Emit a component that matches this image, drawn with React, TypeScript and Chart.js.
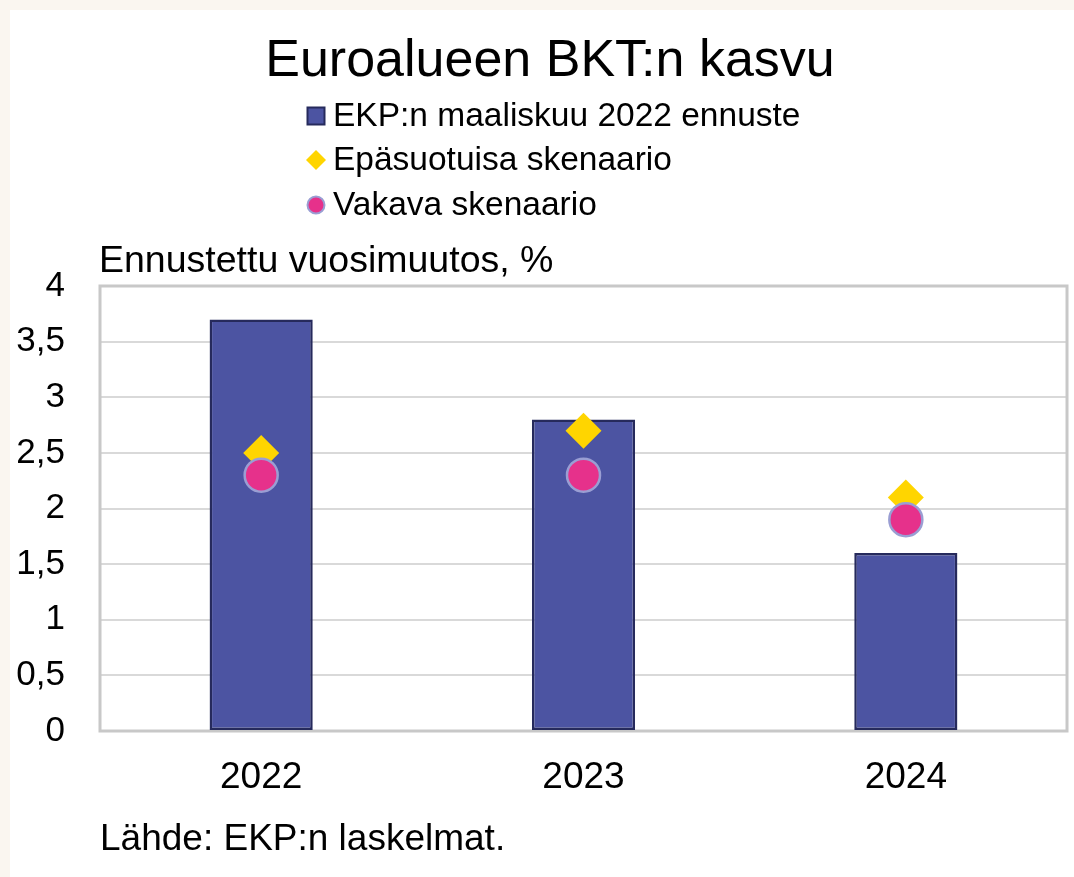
import React, { useEffect, useRef } from "react";
import { Chart, registerables } from "chart.js";

Chart.register(...registerables);

const TITLE = "Euroalueen BKT:n kasvu";
const AXIS_LABEL = "Ennustettu vuosimuutos, %";
const SOURCE = "Lähde: EKP:n laskelmat.";
const categories = ["2022", "2023", "2024"];
const seriesLabels = [
  "EKP:n maaliskuu 2022 ennuste",
  "Epäsuotuisa skenaario",
  "Vakava skenaario",
];
const ecbMarch2022 = [3.7, 2.8, 1.6];
const adverseScenario = [2.5, 2.7, 2.1];
const severeScenario = [2.3, 2.3, 1.9];
const yMin = 0;
const yMax = 4;
const yStep = 0.5;

const FONT = "'Liberation Sans', Arial, Helvetica, sans-serif";
const BAR_FILL = "#4c54a2";
const BAR_BORDER = "#262a5c";
const DIAMOND = "#ffd500";
const CIRCLE_FILL = "#e6318b";
const CIRCLE_BORDER = "#9a9ed3";

const decorPlugin = {
  id: "decor",
  beforeDatasetsDraw(chart: any) {
    const { ctx, chartArea } = chart;
    ctx.save();
    ctx.strokeStyle = "#c8c8c8";
    ctx.lineWidth = 3;
    ctx.strokeRect(
      chartArea.left,
      chartArea.top,
      chartArea.right - chartArea.left,
      chartArea.bottom - chartArea.top
    );
    ctx.restore();
  },
  afterDraw(chart: any) {
    const { ctx, chartArea } = chart;
    ctx.save();
    ctx.fillStyle = "#000";
    // title
    ctx.font = `52px ${FONT}`;
    ctx.textAlign = "center";
    ctx.textBaseline = "alphabetic";
    ctx.fillText(TITLE, 540, 66);

    // legend
    const lx = 306;
    const rows = [106, 150, 195];
    ctx.font = `33.5px ${FONT}`;
    ctx.textAlign = "left";
    ctx.textBaseline = "middle";
    // bar marker
    ctx.fillStyle = BAR_FILL;
    ctx.fillRect(lx - 8.5, rows[0] - 8.5, 17, 17);
    ctx.strokeStyle = BAR_BORDER;
    ctx.lineWidth = 2;
    ctx.strokeRect(lx - 8.5, rows[0] - 8.5, 17, 17);
    // diamond marker
    ctx.fillStyle = DIAMOND;
    ctx.beginPath();
    ctx.moveTo(lx - 10, rows[1]);
    ctx.lineTo(lx, rows[1] - 10);
    ctx.lineTo(lx + 10, rows[1]);
    ctx.lineTo(lx, rows[1] + 10);
    ctx.closePath();
    ctx.fill();
    // circle marker
    ctx.beginPath();
    ctx.arc(lx, rows[2], 8.5, 0, Math.PI * 2);
    ctx.fillStyle = CIRCLE_FILL;
    ctx.fill();
    ctx.strokeStyle = CIRCLE_BORDER;
    ctx.lineWidth = 2;
    ctx.stroke();
    ctx.fillStyle = "#000";
    seriesLabels.forEach((t, i) => ctx.fillText(t, lx + 17, rows[i] + 1));

    // axis label
    ctx.font = `37.5px ${FONT}`;
    ctx.textBaseline = "alphabetic";
    ctx.fillText(AXIS_LABEL, chartArea.left - 1, 262);

    // source
    ctx.font = `37px ${FONT}`;
    ctx.fillText(SOURCE, chartArea.left, 840);
    ctx.restore();
  },
};

export default function App() {
  const ref = useRef<HTMLCanvasElement | null>(null);
  useEffect(() => {
    if (!ref.current) return;
    const chart = new Chart(ref.current, {
      type: "bar",
      data: {
        labels: categories,
        datasets: [
          {
            type: "bar",
            label: seriesLabels[0],
            data: ecbMarch2022,
            backgroundColor: BAR_FILL,
            borderColor: BAR_BORDER,
            borderWidth: 2.5,
            borderSkipped: false,
            barPercentage: 0.32,
            categoryPercentage: 1,
            order: 3,
          },
          {
            type: "line",
            label: seriesLabels[1],
            data: adverseScenario,
            showLine: false,
            pointStyle: "rectRot",
            pointRadius: 18,
            pointBackgroundColor: DIAMOND,
            pointBorderColor: DIAMOND,
            pointBorderWidth: 0,
            order: 2,
          },
          {
            type: "line",
            label: seriesLabels[2],
            data: severeScenario,
            showLine: false,
            pointStyle: "circle",
            pointRadius: 16.5,
            pointBackgroundColor: CIRCLE_FILL,
            pointBorderColor: CIRCLE_BORDER,
            pointBorderWidth: 2.5,
            order: 1,
          },
        ],
      },
      options: {
        responsive: false,
        animation: false,
        layout: {
          autoPadding: false,
          padding: { left: 0, right: 7, top: 276, bottom: 86 },
        },
        plugins: {
          legend: { display: false },
          title: { display: false },
          tooltip: { enabled: false },
        },
        scales: {
          x: {
            offset: true,
            grid: { display: false, drawTicks: false },
            border: { display: false },
            ticks: {
              color: "#000",
              font: { family: FONT, size: 37 },
              padding: 25,
            },
            afterFit(scale: any) {
              scale.height = 60;
              scale.paddingLeft = 0;
              scale.paddingRight = 0;
            },
          },
          y: {
            min: yMin,
            max: yMax,
            grid: { color: "#d9d9d9", lineWidth: 2, drawTicks: false },
            border: { display: false },
            ticks: {
              stepSize: yStep,
              color: "#000",
              padding: 35,
              font: { family: FONT, size: 35 },
              callback: (v: any) => String(Number(v)).replace(".", ","),
            },
            afterFit(scale: any) {
              scale.width = 90;
            },
          },
        },
      },
      plugins: [decorPlugin],
    });
    return () => chart.destroy();
  }, []);

  return (
    <div
      style={{
        position: "fixed",
        left: 0,
        top: 0,
        width: 1074,
        height: 877,
        background: "#faf6f0",
      }}
    >
      <div
        style={{
          position: "absolute",
          left: 10,
          top: 10,
          width: 1064,
          height: 867,
          background: "#ffffff",
        }}
      >
        <canvas
          ref={ref}
          width={1064}
          height={867}
          style={{ width: 1064, height: 867, display: "block" }}
        />
      </div>
    </div>
  );
}
